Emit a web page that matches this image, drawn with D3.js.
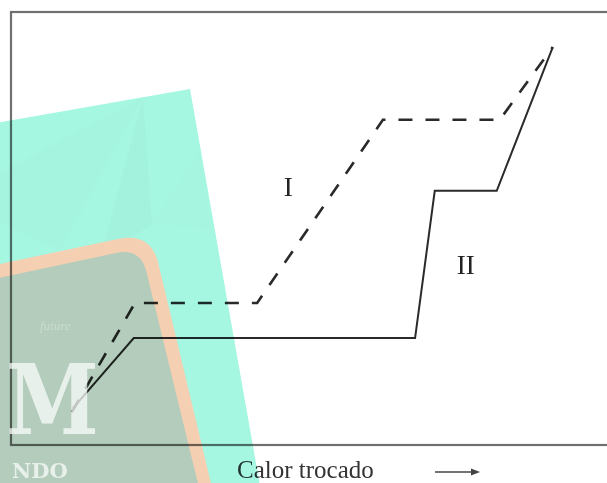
<!DOCTYPE html>
<html>
<head>
<meta charset="utf-8">
<script src="https://cdn.jsdelivr.net/npm/d3@7"></script>
<style>
  body { margin: 0; background: #fff; }
  svg { display: block; }
</style>
</head>
<body>
<script>
// curves (x: heat exchanged, y: temperature, arbitrary units 0-100)
const seriesI_x  = [10.2, 20.8, 41.3, 62.4, 82.0, 90.9]
const seriesI_y  = [7.6, 32.8, 32.8, 75.1, 75.1, 91.9]
const seriesII_x = [10.4, 20.6, 67.8, 71.1, 81.5, 90.9]
const seriesII_y = [8.5, 24.7, 24.7, 58.7, 58.7, 91.9]
const seriesNames = ["I", "II"]
const xTitle = "Calor trocado"

const W = 607, H = 483

const svg = d3.select("body")
              .append("svg")
              .attr("width", W)
              .attr("height", H)

svg.append("rect")
   .attr("width", W).attr("height", H)
   .attr("fill", "#fff")

const xscale = d3.scaleLinear().domain([0, 100]).range([11, 607])
const yscale = d3.scaleLinear().domain([0, 100]).range([445, 12])

// frame
svg.append("rect")
   .attr("x", xscale(0))
   .attr("y", yscale(100))
   .attr("width", 640)
   .attr("height", yscale(0) - yscale(100))
   .attr("fill", "none")
   .attr("stroke", "#707070")
   .attr("stroke-width", 2.2)

const line = d3.line()
               .x(d => xscale(d[0]))
               .y(d => yscale(d[1]))

const ptsI  = seriesI_x.map((x, i) => [x, seriesI_y[i]])
const ptsII = seriesII_x.map((x, i) => [x, seriesII_y[i]])

svg.append("path")
   .attr("d", line(ptsI))
   .attr("fill", "none")
   .attr("stroke", "#2a2a2a")
   .attr("stroke-width", 2.6)
   .attr("stroke-dasharray", "14,13")

svg.append("path")
   .attr("d", line(ptsII))
   .attr("fill", "none")
   .attr("stroke", "#2a2a2a")
   .attr("stroke-width", 2)

// curve labels (placed in data units)
const labelPos = [[46.5, 57.5], [76.3, 39.5]]
svg.selectAll("text.lbl")
   .data(seriesNames)
   .enter()
   .append("text")
   .attr("class", "lbl")
   .attr("x", (d, i) => xscale(labelPos[i][0]))
   .attr("y", (d, i) => yscale(labelPos[i][1]))
   .attr("text-anchor", "middle")
   .attr("font-family", "Liberation Serif, serif")
   .attr("font-size", "27px")
   .attr("fill", "#222")
   .text(d => d)

// x title with arrow
svg.append("text")
   .attr("x", 237)
   .attr("y", 478)
   .attr("font-family", "Liberation Serif, serif")
   .attr("font-size", "25px")
   .attr("fill", "#333")
   .text(xTitle)

svg.append("line")
   .attr("x1", 435).attr("x2", 474)
   .attr("y1", 472).attr("y2", 472)
   .attr("stroke", "#444")
   .attr("stroke-width", 1.5)
svg.append("path")
   .attr("d", "M480,472 L471,468.5 L471,475.5 Z")
   .attr("fill", "#444")

// watermark overlay
const wm = svg.append("g")
              .style("isolation", "isolate")
              .style("mix-blend-mode", "multiply")

wm.append("path")
  .attr("d", "M-50,131 L190,89 L266,520 L-50,520 Z")
  .attr("fill", "#a6f7e2")
wm.append("path")
  .attr("d", "M143,97 L152,224 L100,260 Z")
  .attr("fill", "#a3f2de")
wm.append("path")
  .attr("d", "M152,224 L200,150 L212,230 Z")
  .attr("fill", "#a5f5e1")
wm.append("path")
  .attr("d", "M-50,200 L143,97 L60,250 Z")
  .attr("fill", "#a4f4df")

wm.append("path")
  .attr("d", "M-10,266 L118,239 Q150,232 158,262 L215,500 L-10,500 Z")
  .attr("fill", "#f4cfb2")
wm.append("path")
  .attr("d", "M-10,280 L116,253 Q140,248 146,270 L202,500 L-10,500 Z")
  .attr("fill", "#b3ccbb")

const big = svg.append("g")
big.append("text")
   .attr("transform", "translate(6,434) scale(1,1.15)")
   .attr("font-family", "DejaVu Serif, serif")
   .attr("font-weight", "bold")
   .attr("font-size", "84px")
   .attr("fill", "#fafcfb")
   .attr("fill-opacity", 0.75)
   .text("M")
big.append("text")
   .attr("x", 12).attr("y", 478)
   .attr("font-family", "DejaVu Serif, serif")
   .attr("font-weight", "bold")
   .attr("font-size", "21px")
   .attr("fill", "#fafcfb")
   .attr("fill-opacity", 0.75)
   .text("NDO")
big.append("text")
   .attr("x", 40).attr("y", 330)
   .attr("font-family", "Liberation Serif, serif")
   .attr("font-style", "italic")
   .attr("font-size", "13px")
   .attr("fill", "#fff")
   .attr("fill-opacity", 0.3)
   .text("future")
</script>
</body>
</html>
